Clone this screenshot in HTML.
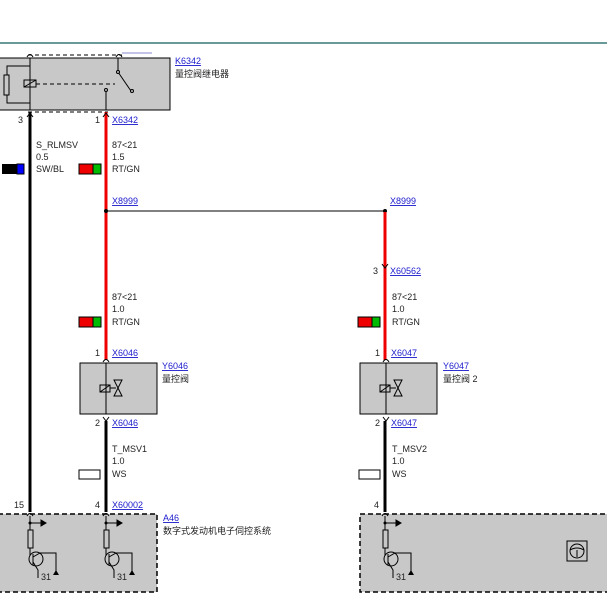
<!DOCTYPE html>
<html><head><meta charset="utf-8"><style>
html,body{margin:0;padding:0;background:#fff;width:607px;height:600px;overflow:hidden}
svg text{font-family:"Liberation Sans","Noto Sans CJK SC",sans-serif;font-size:9px;fill:#222}
svg text.l{fill:#1a1acc;text-decoration:underline}
</style></head><body>
<svg width="607" height="600" viewBox="0 0 607 600" xmlns="http://www.w3.org/2000/svg">
<rect x="0" y="42" width="607" height="2" fill="#6a9a98"/>
<!-- relay -->
<rect x="-1" y="58" width="171" height="52" fill="#c8c8c8" stroke="#000" stroke-width="1"/>
<line x1="28" y1="55" x2="122" y2="55" stroke="#000" stroke-dasharray="4,3"/>
<line x1="122" y1="53" x2="152" y2="53" stroke="#8888cc"/>
<path d="M27,57 q3,-5 6,0 M116,57 q3,-5 6,0" fill="none" stroke="#000"/>
<line x1="30" y1="58" x2="30" y2="110" stroke="#000"/>
<rect x="4" y="75" width="5" height="20" fill="none" stroke="#000"/>
<path d="M7,75 V66 H30 M7,95 V103 H30" fill="none" stroke="#000"/>
<rect x="24" y="80" width="12" height="7" fill="none" stroke="#000"/>
<line x1="24" y1="87" x2="36" y2="80" stroke="#000"/>
<line x1="36" y1="84" x2="115" y2="84" stroke="#000" stroke-dasharray="4,3"/>
<path d="M118,58 V72 L131,91" fill="none" stroke="#000"/>
<circle cx="118" cy="72" r="1.5" fill="#c8c8c8" stroke="#000"/>
<circle cx="132" cy="91" r="1.5" fill="#c8c8c8" stroke="#000"/>
<path d="M106,110 V91" stroke="#000"/><circle cx="106" cy="90" r="1.5" fill="#c8c8c8" stroke="#000"/>
<line x1="28" y1="112" x2="108" y2="112" stroke="#000" stroke-dasharray="4,3"/>
<text x="175" y="64" class="l">K6342</text><text x="175" y="77">量控阀继电器</text>
<!-- wires -->
<line x1="30" y1="112" x2="30" y2="512" stroke="#000" stroke-width="3"/>
<line x1="106" y1="112" x2="106" y2="360" stroke="#e00" stroke-width="3"/>
<path d="M27,117 L30,113 L33,117 M103,117 L106,113 L109,117" fill="none" stroke="#000"/>
<text x="18" y="123">3</text><text x="95" y="123">1</text><text x="112" y="123" class="l">X6342</text>
<text x="36" y="148">S_RLMSV</text><text x="36" y="160">0.5</text><text x="36" y="172">SW/BL</text>
<rect x="2" y="164" width="16" height="10" fill="#000"/><rect x="17" y="164" width="7" height="10" fill="#00f" stroke="#000"/>
<text x="112" y="148">87&lt;21</text><text x="112" y="160">1.5</text><text x="112" y="172">RT/GN</text>
<rect x="79" y="164" width="14" height="10" fill="#e00" stroke="#000"/><rect x="93" y="164" width="8" height="10" fill="#0b0" stroke="#000"/>
<text x="112" y="204" class="l">X8999</text><text x="390" y="204" class="l">X8999</text>
<line x1="106" y1="211" x2="385" y2="211" stroke="#000"/>
<circle cx="106" cy="211" r="2" fill="#000"/><circle cx="385" cy="211" r="2" fill="#000"/>
<line x1="385" y1="212" x2="385" y2="360" stroke="#e00" stroke-width="3"/>
<path d="M382,264 L385,268 L388,264" fill="none" stroke="#000"/>
<text x="373" y="274">3</text><text x="390" y="274" class="l">X60562</text>
<text x="112" y="300">87&lt;21</text><text x="112" y="312">1.0</text><text x="112" y="325">RT/GN</text>
<rect x="79" y="317" width="14" height="10" fill="#e00" stroke="#000"/><rect x="93" y="317" width="8" height="10" fill="#0b0" stroke="#000"/>
<text x="392" y="300">87&lt;21</text><text x="392" y="312">1.0</text><text x="392" y="325">RT/GN</text>
<rect x="358" y="317" width="14" height="10" fill="#e00" stroke="#000"/><rect x="372" y="317" width="8" height="10" fill="#0b0" stroke="#000"/>
<!-- valves -->
<g id="v1">
<rect x="80" y="363" width="77" height="51" fill="#c8c8c8" stroke="#000"/>
<line x1="106" y1="363" x2="106" y2="414" stroke="#000"/>
<path d="M103,362 q3,-5 6,0" fill="none" stroke="#000"/>
<rect x="100" y="385" width="10" height="7" fill="none" stroke="#000"/><line x1="100" y1="392" x2="110" y2="385" stroke="#000"/>
<path d="M110,388 H116 M114,380 H122 L114,396 H122 Z" fill="none" stroke="#000"/>
<path d="M103,417 L106,421 L109,417" fill="none" stroke="#000"/>
</g>
<use href="#v1" x="280" y="0"/>
<text x="95" y="356">1</text><text x="112" y="356" class="l">X6046</text>
<text x="162" y="369" class="l">Y6046</text><text x="162" y="382">量控阀</text>
<text x="375" y="356">1</text><text x="391" y="356" class="l">X6047</text>
<text x="443" y="369" class="l">Y6047</text><text x="443" y="382">量控阀 2</text>
<line x1="106" y1="421" x2="106" y2="512" stroke="#000" stroke-width="3"/>
<line x1="385" y1="421" x2="385" y2="512" stroke="#000" stroke-width="3"/>
<text x="95" y="426">2</text><text x="112" y="426" class="l">X6046</text>
<text x="375" y="426">2</text><text x="391" y="426" class="l">X6047</text>
<text x="112" y="452">T_MSV1</text><text x="112" y="464">1.0</text><text x="112" y="477">WS</text>
<rect x="79" y="470" width="21" height="9" fill="#fff" stroke="#000"/>
<text x="392" y="452">T_MSV2</text><text x="392" y="464">1.0</text><text x="392" y="477">WS</text>
<rect x="359" y="470" width="21" height="9" fill="#fff" stroke="#000"/>
<text x="14" y="508">15</text><text x="95" y="508">4</text><text x="112" y="508" class="l">X60002</text><text x="374" y="508">4</text>
<text x="163" y="521" class="l">A46</text><text x="163" y="534">数字式发动机电子伺控系统</text>
<!-- ECU boxes -->
<rect x="-2" y="514" width="159" height="78" fill="#c8c8c8" stroke="#000" stroke-width="1.5" stroke-dasharray="5,3"/>
<rect x="360" y="514" width="250" height="78" fill="#c8c8c8" stroke="#000" stroke-width="1.5" stroke-dasharray="5,3"/>
<g id="d1">
<path d="M27,516 q3,-5 6,0" fill="none" stroke="#000"/>
<line x1="30" y1="516" x2="30" y2="530" stroke="#000"/>
<circle cx="30" cy="523" r="1.5" fill="#000"/>
<path d="M30,523 H44 M41,520 L46,523 L41,526 Z" fill="#000" stroke="#000"/>
<rect x="28" y="530" width="5" height="18" fill="none" stroke="#000"/>
<line x1="30" y1="548" x2="30" y2="556" stroke="#000"/>
<circle cx="36" cy="559" r="7" fill="none" stroke="#000"/>
<path d="M33,554 V565 M33,557 L40,553 H56 V575 M33,562 L38,570 V578" fill="none" stroke="#000"/>
<path d="M53,575 L56,570 L59,575 Z" fill="#000"/>
<text x="41" y="580">31</text>
</g>
<use href="#d1" x="76"/>
<use href="#d1" x="355"/>
<rect x="567" y="541" width="20" height="20" fill="#c8c8c8" stroke="#000"/>
<circle cx="577" cy="551" r="7" fill="none" stroke="#000"/>
<path d="M570,550 Q577,546 584,550 M577,550 V557" fill="none" stroke="#000"/>
</svg>
</body></html>
